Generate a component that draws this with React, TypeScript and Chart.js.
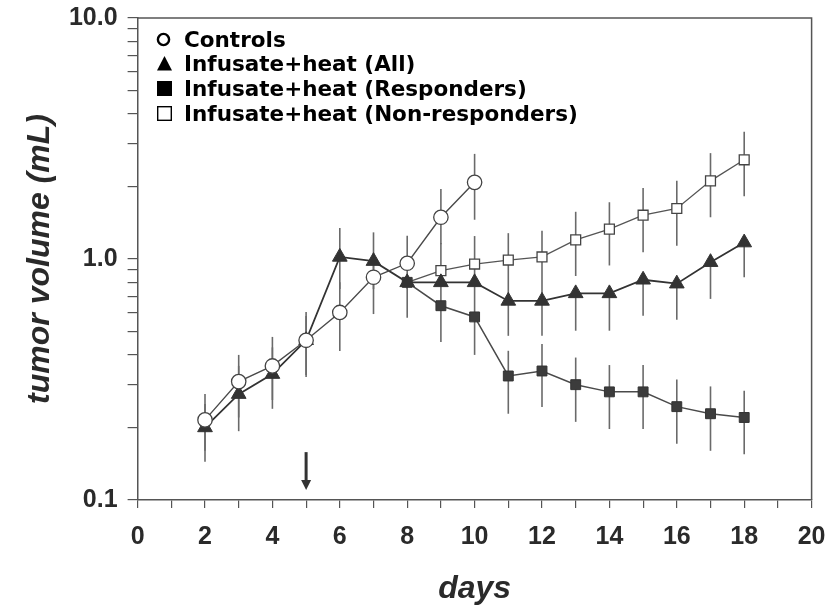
import React, { useEffect, useRef } from 'react';
import { Chart, registerables } from 'chart.js';

Chart.register(...registerables);

// ---------- data ----------
const controlDays = [2, 3, 4, 5, 6, 7, 8, 9, 10];
const controlVals = [0.215, 0.31, 0.36, 0.46, 0.6, 0.84, 0.96, 1.49, 2.08];
const controlHi = [0.275, 0.4, 0.475, 0.603, 0.8, 1.05, 1.25, 1.95, 2.73];
const controlLo = [0.16, 0.22, 0.26, 0.324, 0.415, 0.591, 0.75, 1.15, 1.455];

const allDays = [2, 3, 4, 5, 6, 7, 8, 9, 10, 11, 12, 13, 14, 15, 16, 17, 18];
const allVals = [0.2, 0.275, 0.333, 0.46, 1.02, 0.98, 0.8, 0.8, 0.8, 0.67, 0.67, 0.72, 0.72, 0.82, 0.79, 0.97, 1.17];
const allHi = [0.25, 0.36, 0.43, 0.58, 1.345, 1.29, null, null, null, null, null, null, null, null, null, null, null];
const allLo = [0.144, 0.193, 0.239, 0.33, 0.75, 0.75, null, null, null, 0.48, 0.48, 0.504, 0.504, 0.582, 0.56, 0.683, 0.84];

const respDays = [8, 9, 10, 11, 12, 13, 14, 15, 16, 17, 18];
const respVals = [0.8, 0.64, 0.575, 0.327, 0.343, 0.301, 0.281, 0.281, 0.244, 0.228, 0.22];
const respHi = [null, 0.8, 0.8, 0.416, 0.444, 0.39, 0.363, 0.363, 0.316, 0.296, 0.284];
const respLo = [0.57, 0.453, 0.4, 0.228, 0.243, 0.211, 0.197, 0.197, 0.171, 0.16, 0.155];

const nonRespDays = [8, 9, 10, 11, 12, 13, 14, 15, 16, 17, 18];
const nonRespVals = [0.8, 0.895, 0.953, 0.99, 1.02, 1.2, 1.33, 1.52, 1.62, 2.11, 2.58];
const nonRespHi = [null, 1.165, 1.245, 1.28, 1.31, 1.57, 1.72, 1.97, 2.11, 2.75, 3.37];
const nonRespLo = [null, 0.8, 0.8, 0.67, 0.67, 0.85, 0.94, 1.066, 1.135, 1.49, 1.82];

const seriesLabels = [
  'Controls',
  'Infusate+heat (All)',
  'Infusate+heat (Responders)',
  'Infusate+heat (Non-responders)',
];

const xMin = 0;
const xMax = 20;
const yTickValues = [0.1, 0.2, 0.3, 0.4, 0.5, 0.6, 0.7, 0.8, 0.9, 1, 2, 3, 4, 5, 6, 7, 8, 9, 10];
const yTickLabels: Record<string, string> = { '0.1': '0.1', '1': '1.0', '10': '10.0' };
const xAxisTitle = 'days';
const yAxisTitle = 'tumor volume (mL)';

// treatment arrow (day, from value, to value)
const arrowDay = 5;
const arrowFrom = 0.158;
const arrowTo = 0.11;

const toPts = (d: number[], v: number[]) => d.map((x, i) => ({ x, y: v[i] }));

const errSeries = [
  { days: controlDays, vals: controlVals, hi: controlHi, lo: controlLo },
  { days: allDays, vals: allVals, hi: allHi, lo: allLo },
  { days: respDays, vals: respVals, hi: respHi, lo: respLo },
  { days: nonRespDays, vals: nonRespVals, hi: nonRespHi, lo: nonRespLo },
];

export default function App() {
  const ref = useRef<HTMLCanvasElement>(null);

  useEffect(() => {
    const canvas = ref.current!;

    const errPlugin = {
      id: 'errbars',
      beforeDatasetsDraw(chart: any) {
        const { ctx, scales } = chart;
        const x = scales.x;
        const y = scales.y;
        ctx.save();
        ctx.strokeStyle = '#6a6a6a';
        ctx.lineWidth = 1.6;
        errSeries.forEach((s) => {
          s.days.forEach((d, i) => {
            const px = x.getPixelForValue(d);
            const py = y.getPixelForValue(s.vals[i]);
            const h = s.hi[i];
            const l = s.lo[i];
            if (h != null) {
              ctx.beginPath();
              ctx.moveTo(px, py);
              ctx.lineTo(px, y.getPixelForValue(h));
              ctx.stroke();
            }
            if (l != null) {
              ctx.beginPath();
              ctx.moveTo(px, py);
              ctx.lineTo(px, y.getPixelForValue(l));
              ctx.stroke();
            }
          });
        });
        // arrow
        const ax = x.getPixelForValue(arrowDay);
        const ay1 = y.getPixelForValue(arrowFrom);
        const ay2 = y.getPixelForValue(arrowTo);
        ctx.strokeStyle = '#333';
        ctx.fillStyle = '#333';
        ctx.lineWidth = 3;
        ctx.beginPath();
        ctx.moveTo(ax, ay1);
        ctx.lineTo(ax, ay2 - 8);
        ctx.stroke();
        ctx.beginPath();
        ctx.moveTo(ax - 5, ay2 - 10);
        ctx.lineTo(ax + 5, ay2 - 10);
        ctx.lineTo(ax, ay2);
        ctx.closePath();
        ctx.fill();
        ctx.restore();
      },
      afterDraw(chart: any) {
        const { ctx, chartArea } = chart;
        ctx.save();
        // top & right frame
        ctx.strokeStyle = '#555';
        ctx.lineWidth = 1.5;
        ctx.beginPath();
        ctx.moveTo(chartArea.left, chartArea.top);
        ctx.lineTo(chartArea.right, chartArea.top);
        ctx.lineTo(chartArea.right, chartArea.bottom);
        ctx.stroke();

        // legend
        const sx = 157;
        const tx = 184;
        const baselines = [47, 71, 96, 121];
        ctx.font = 'bold 21.5px "DejaVu Sans"';
        ctx.textBaseline = 'alphabetic';
        ctx.textAlign = 'left';
        ctx.fillStyle = '#000';
        seriesLabels.forEach((lab, i) => {
          ctx.fillText(lab, tx, baselines[i]);
        });
        const b = baselines;
        // circle
        ctx.strokeStyle = '#000';
        ctx.lineWidth = 2.4;
        ctx.beginPath();
        ctx.arc(sx + 6.5, b[0] - 7.5, 5.6, 0, Math.PI * 2);
        ctx.stroke();
        // triangle
        ctx.fillStyle = '#000';
        ctx.beginPath();
        ctx.moveTo(sx, b[1] - 0.5);
        ctx.lineTo(sx + 15, b[1] - 0.5);
        ctx.lineTo(sx + 7.5, b[1] - 15);
        ctx.closePath();
        ctx.fill();
        // filled square
        ctx.fillRect(sx, b[2] - 15, 15, 15);
        // open square
        ctx.lineWidth = 1.4;
        ctx.strokeRect(sx + 0.7, b[3] - 14.3, 13.6, 13.6);
        ctx.restore();
      },
    };

    const family = '"Liberation Sans", Arial, sans-serif';
    const xTickFont = { family, size: 25, weight: 'bold' as const, lineHeight: 1.52 };
    const yTickFont = { family, size: 25, weight: 'bold' as const, lineHeight: 0.6 };
    const titleFont = { family, size: 32, weight: 'bold' as const, style: 'italic' as const };

    const chart = new Chart(canvas, {
      type: 'line',
      data: {
        datasets: [
          {
            label: seriesLabels[0],
            data: toPts(controlDays, controlVals),
            borderColor: '#4a4a4a',
            borderWidth: 1.4,
            pointStyle: 'circle',
            pointRadius: 7.2,
            pointBackgroundColor: '#fff',
            pointBorderColor: '#444',
            pointBorderWidth: 1.3,
          },
          {
            label: seriesLabels[1],
            data: toPts(allDays, allVals),
            borderColor: '#333',
            borderWidth: 1.8,
            pointStyle: 'triangle',
            pointRadius: 8.5,
            pointBackgroundColor: '#333',
            pointBorderColor: '#333',
            pointBorderWidth: 1,
          },
          {
            label: seriesLabels[2],
            data: toPts(respDays, respVals),
            borderColor: '#4a4a4a',
            borderWidth: 1.5,
            pointStyle: 'rect',
            pointRadius: 7,
            pointBackgroundColor: '#3c3c3c',
            pointBorderColor: '#333',
            pointBorderWidth: 1,
          },
          {
            label: seriesLabels[3],
            data: toPts(nonRespDays, nonRespVals),
            borderColor: '#555',
            borderWidth: 1.3,
            pointStyle: 'rect',
            pointRadius: (c: any) => (c.dataIndex === 0 ? 0 : 7),
            pointBackgroundColor: '#fff',
            pointBorderColor: '#444',
            pointBorderWidth: 1.3,
          },
        ],
      },
      options: {
        responsive: false,
        animation: false,
        devicePixelRatio: 1,
        layout: { padding: { top: 18, right: 25.4, bottom: 0, left: 0 } },
        plugins: { legend: { display: false }, tooltip: { enabled: false } },
        elements: { line: { tension: 0 } },
        scales: {
          x: {
            type: 'linear',
            min: xMin,
            max: xMax,
            afterFit: (s: any) => {
              s.height = 108;
            },
            ticks: {
              stepSize: 1,
              autoSkip: false,
              maxRotation: 0,
              padding: 10,
              color: '#2a2a2a',
              font: xTickFont,
              callback: (v: any) => (Number(v) % 2 === 0 ? String(v) : ''),
            },
            grid: { drawOnChartArea: false, drawTicks: true, tickLength: 8, color: '#555', lineWidth: 1.2 },
            border: { display: true, color: '#555', width: 1.5 },
            title: { display: true, text: xAxisTitle, color: '#2a2a2a', font: titleFont, padding: { top: 0, bottom: 0 } },
          },
          y: {
            type: 'logarithmic',
            min: 0.1,
            max: 10,
            afterFit: (s: any) => {
              s.width = 137.6;
            },
            afterBuildTicks: (s: any) => {
              s.ticks = yTickValues.map((v) => ({ value: v }));
            },
            ticks: {
              autoSkip: false,
              padding: 10,
              color: '#2a2a2a',
              font: yTickFont,
              callback: (v: any) => yTickLabels[String(v)] ?? '',
            },
            grid: { drawOnChartArea: false, drawTicks: true, tickLength: 10, color: '#555', lineWidth: 1.2 },
            border: { display: true, color: '#555', width: 1.5 },
            title: { display: true, text: yAxisTitle, color: '#2a2a2a', font: titleFont, padding: { top: 21, bottom: 0 } },
          },
        },
      },
      plugins: [errPlugin],
    } as any);

    return () => chart.destroy();
  }, []);

  return (
    <div style={{ position: 'fixed', left: 0, top: 0, width: 837, height: 608, background: '#fff' }}>
      <canvas ref={ref} width={837} height={608} style={{ display: 'block' }} />
    </div>
  );
}
